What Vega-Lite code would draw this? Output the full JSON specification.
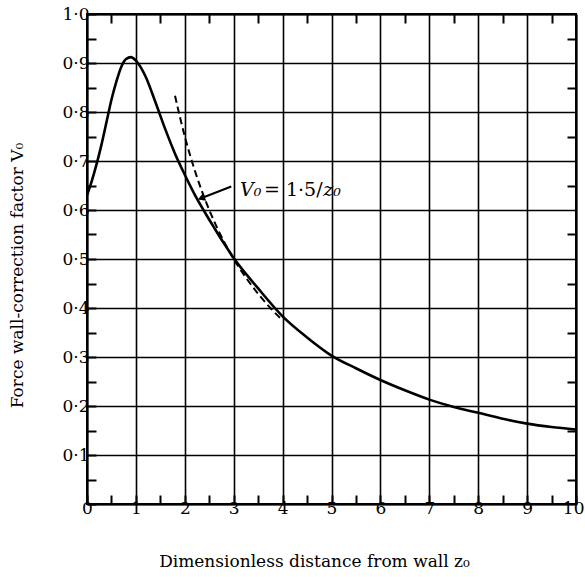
{
  "$schema": "https://vega.github.io/schema/vega-lite/v6.json",
  "width": 489,
  "height": 490,
  "autosize": "none",
  "padding": {"left": 87, "top": 14, "right": 9, "bottom": 73},
  "config": {
    "font": "DejaVu Serif",
    "view": {"stroke": "black", "strokeWidth": 2},
    "axis": {
      "domainColor": "black", "domainWidth": 2,
      "tickColor": "black", "tickWidth": 2,
      "gridColor": "black", "gridWidth": 1.6, "gridOpacity": 1,
      "labelColor": "black", "labelFont": "DejaVu Serif", "labelFontSize": 17,
      "titleColor": "black", "titleFont": "DejaVu Serif", "titleFontSize": 17, "titleFontWeight": "normal",
      "labelOverlap": false, "labelBound": false, "labelFlush": false
    }
  },
  "datasets": {
    "solid": [
      {"z": 0.0, "v": 0.63}, {"z": 0.1, "v": 0.66}, {"z": 0.2, "v": 0.695}, {"z": 0.3, "v": 0.735},
      {"z": 0.4, "v": 0.78}, {"z": 0.5, "v": 0.825}, {"z": 0.6, "v": 0.862}, {"z": 0.7, "v": 0.892},
      {"z": 0.8, "v": 0.908}, {"z": 0.9, "v": 0.912}, {"z": 1.0, "v": 0.905}, {"z": 1.2, "v": 0.872},
      {"z": 1.4, "v": 0.82}, {"z": 1.6, "v": 0.765}, {"z": 1.8, "v": 0.715}, {"z": 2.0, "v": 0.672},
      {"z": 2.2, "v": 0.632}, {"z": 2.4, "v": 0.597}, {"z": 2.6, "v": 0.564}, {"z": 2.8, "v": 0.532},
      {"z": 3.0, "v": 0.502}, {"z": 3.5, "v": 0.44}, {"z": 4.0, "v": 0.383}, {"z": 4.5, "v": 0.34},
      {"z": 5.0, "v": 0.303}, {"z": 5.5, "v": 0.277}, {"z": 6.0, "v": 0.253}, {"z": 6.5, "v": 0.232},
      {"z": 7.0, "v": 0.213}, {"z": 7.5, "v": 0.198}, {"z": 8.0, "v": 0.186}, {"z": 8.5, "v": 0.174},
      {"z": 9.0, "v": 0.164}, {"z": 9.5, "v": 0.157}, {"z": 10.0, "v": 0.152}
    ],
    "dashed": [
      {"z": 1.8, "v": 0.833}, {"z": 2.0, "v": 0.75}, {"z": 2.2, "v": 0.682}, {"z": 2.4, "v": 0.625},
      {"z": 2.6, "v": 0.577}, {"z": 2.8, "v": 0.536}, {"z": 3.0, "v": 0.5}, {"z": 3.25, "v": 0.462},
      {"z": 3.5, "v": 0.429}, {"z": 3.75, "v": 0.4}, {"z": 4.0, "v": 0.375}
    ],
    "arrow": [
      {"z": 2.95, "v": 0.648, "z2": 2.36, "v2": 0.625}
    ],
    "labelItalic": [
      {"z": 3.13, "v": 0.64, "t": "V₀"},
      {"z": 4.83, "v": 0.64, "t": "z₀"}
    ],
    "labelRoman": [
      {"z": 3.62, "v": 0.64, "t": "= 1·5/"}
    ]
  },
  "layer": [
    {
      "data": {"name": "solid"},
      "mark": {"type": "line", "color": "black", "strokeWidth": 2.6, "interpolate": "monotone"},
      "encoding": {
        "x": {
          "field": "z", "type": "quantitative",
          "scale": {"domain": [0, 10], "nice": false, "zero": false},
          "axis": {
            "orient": "bottom",
            "title": "Dimensionless distance from wall z₀",
            "titleX": 227, "titleY": 57, "titleAlign": "center", "titleBaseline": "middle", "titleAnchor": null,
            "values": [0, 0.5, 1, 1.5, 2, 2.5, 3, 3.5, 4, 4.5, 5, 5.5, 6, 6.5, 7, 7.5, 8, 8.5, 9, 9.5, 10],
            "labelExpr": "abs(datum.value - round(datum.value)) < 0.01 ? format(datum.value, 'd') : ''",
            "labelAlign": {"condition": {"test": "datum.value > 9.9", "value": "right"}, "value": "center"},
            "labelOffset": {"condition": {"test": "datum.value > 9.9", "value": 8}, "value": 0},
            "tickSize": -9,
            "labelPadding": 5,
            "grid": true,
            "gridOpacity": {"condition": {"test": "abs(datum.value - round(datum.value)) < 0.01", "value": 1}, "value": 0}
          }
        },
        "y": {
          "field": "v", "type": "quantitative",
          "scale": {"domain": [0, 1], "nice": false, "zero": false},
          "axis": {
            "orient": "left",
            "title": "Force wall-correction factor V₀",
            "titleX": -70, "titleY": 261, "titleAlign": "center", "titleBaseline": "middle", "titleAngle": -90, "titleAnchor": null,
            "values": [0, 0.05, 0.1, 0.15, 0.2, 0.25, 0.3, 0.35, 0.4, 0.45, 0.5, 0.55, 0.6, 0.65, 0.7, 0.75, 0.8, 0.85, 0.9, 0.95, 1],
            "labelExpr": "(datum.value > 0.01 && abs(datum.value*10 - round(datum.value*10)) < 0.01) ? replace(format(datum.value, '.1f'), '.', '·') : ''",
            "tickSize": -9,
            "labelPadding": 7,
            "grid": true,
            "gridOpacity": {"condition": {"test": "abs(datum.value*10 - round(datum.value*10)) < 0.01", "value": 1}, "value": 0}
          }
        }
      }
    },
    {
      "data": {"name": "dashed"},
      "mark": {"type": "line", "color": "black", "strokeWidth": 2, "strokeDash": [7, 4], "interpolate": "monotone"},
      "encoding": {
        "x": {
          "field": "z", "type": "quantitative",
          "axis": {
            "orient": "top", "title": null, "labels": false, "grid": false,
            "values": [0.5, 1.5, 2.5, 3.5, 4.5, 5.5, 6.5, 7.5, 8.5, 9.5],
            "tickSize": -9
          }
        },
        "y": {
          "field": "v", "type": "quantitative",
          "axis": {
            "orient": "right", "title": null, "labels": false, "grid": false,
            "values": [0.05, 0.15, 0.25, 0.35, 0.45, 0.55, 0.65, 0.75, 0.85, 0.95],
            "tickSize": -9
          }
        }
      }
    },
    {
      "data": {"name": "arrow"},
      "mark": {"type": "rule", "color": "black", "strokeWidth": 2},
      "encoding": {
        "x": {"field": "z", "type": "quantitative", "axis": null},
        "y": {"field": "v", "type": "quantitative", "axis": null},
        "x2": {"field": "z2"},
        "y2": {"field": "v2"}
      }
    },
    {
      "data": {"name": "arrow"},
      "mark": {"type": "point", "shape": "triangle", "filled": true, "color": "black", "size": 70, "angle": 248, "opacity": 1},
      "encoding": {
        "x": {"field": "z2", "type": "quantitative", "axis": null},
        "y": {"field": "v2", "type": "quantitative", "axis": null}
      }
    },
    {
      "data": {"name": "labelItalic"},
      "mark": {"type": "text", "align": "left", "baseline": "middle", "fontSize": 19, "font": "DejaVu Serif", "fontStyle": "italic", "color": "black"},
      "encoding": {
        "x": {"field": "z", "type": "quantitative", "axis": null},
        "y": {"field": "v", "type": "quantitative", "axis": null},
        "text": {"field": "t"}
      }
    },
    {
      "data": {"name": "labelRoman"},
      "mark": {"type": "text", "align": "left", "baseline": "middle", "fontSize": 19, "font": "DejaVu Serif", "color": "black"},
      "encoding": {
        "x": {"field": "z", "type": "quantitative", "axis": null},
        "y": {"field": "v", "type": "quantitative", "axis": null},
        "text": {"field": "t"}
      }
    }
  ],
  "resolve": {"axis": {"x": "independent", "y": "independent"}}
}
